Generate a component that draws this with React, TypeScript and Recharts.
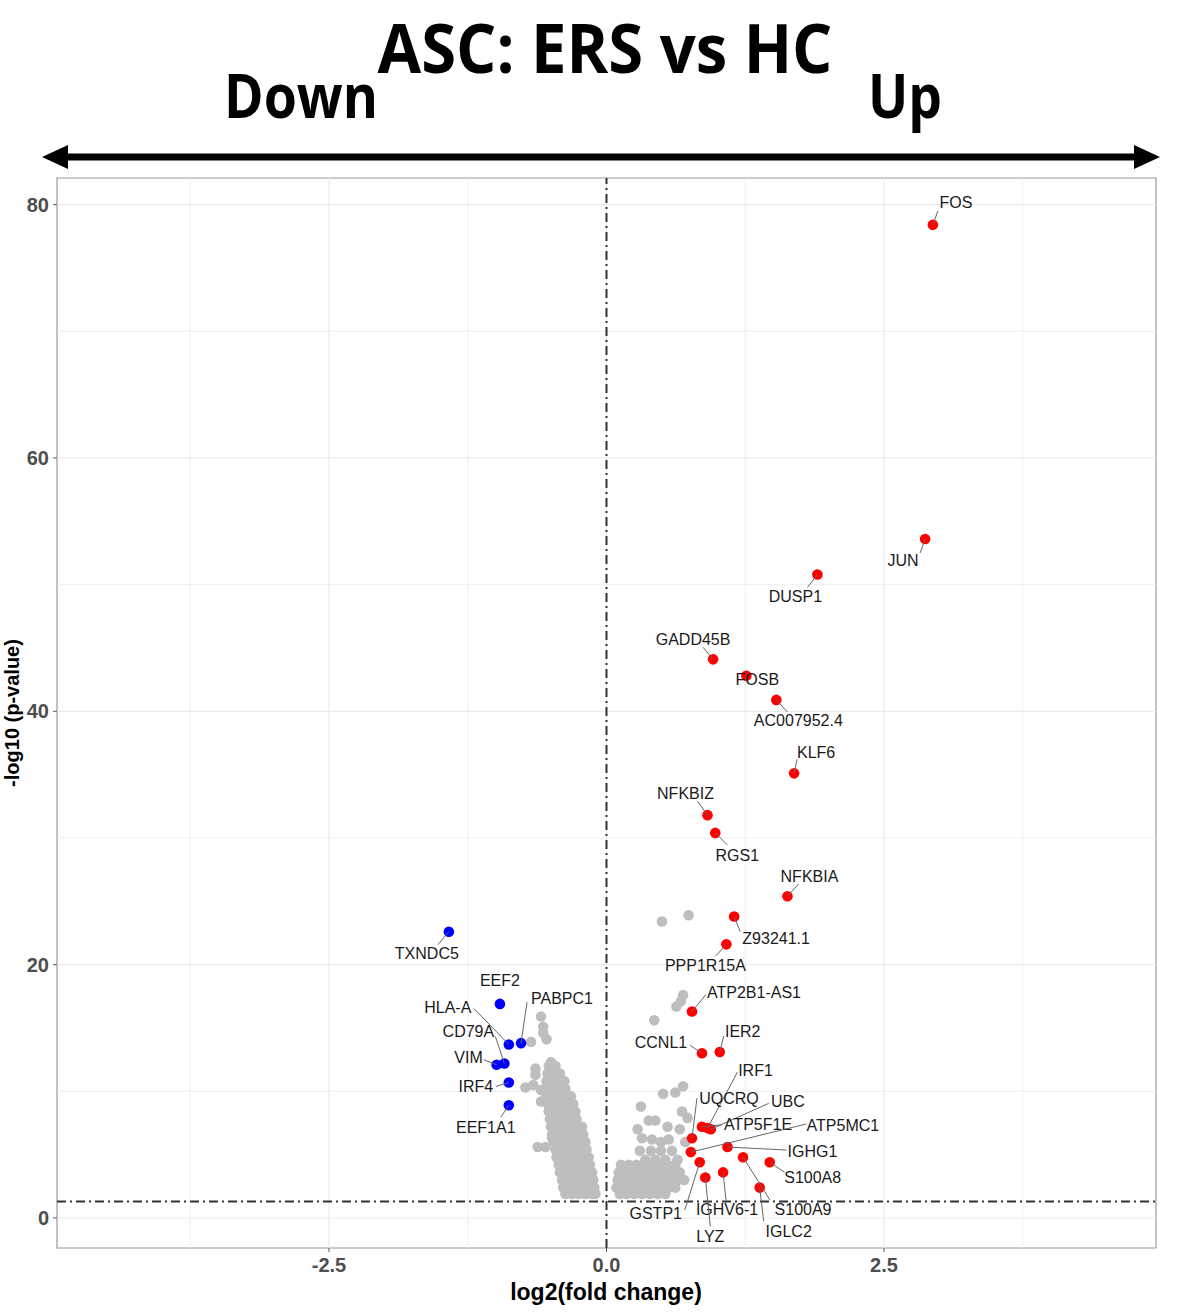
import React from "react";
import {
  ScatterChart,
  Scatter,
  XAxis,
  YAxis,
  ReferenceLine,
  ReferenceArea,
} from "recharts";

// up-regulated genes (red), log2FC / -log10 p
const upGenes = ["FOS", "JUN", "DUSP1", "GADD45B", "FOSB", "AC007952.4", "KLF6", "NFKBIZ", "RGS1", "NFKBIA", "Z93241.1", "PPP1R15A", "ATP2B1-AS1", "CCNL1", "IER2", "IRF1", "UQCRQ", "UBC", "ATP5F1E", "ATP5MC1", "IGHG1", "S100A8", "S100A9", "IGLC2", "IGHV6-1", "LYZ", "GSTP1"];
const upFC = [2.94, 2.87, 1.9, 0.96, 1.26, 1.53, 1.69, 0.91, 0.98, 1.63, 1.15, 1.08, 0.77, 0.86, 1.02, 0.91, 0.77, 0.94, 0.86, 0.76, 1.09, 1.47, 1.23, 1.38, 1.05, 0.89, 0.84];
const upP = [78.4, 53.6, 50.8, 44.1, 42.8, 40.9, 35.1, 31.8, 30.4, 25.4, 23.8, 21.6, 16.3, 13.0, 13.1, 7.1, 6.3, 7.0, 7.2, 5.2, 5.6, 4.4, 4.8, 2.4, 3.6, 3.2, 4.4];

// down-regulated genes (blue)
const downGenes = ["TXNDC5", "EEF2", "HLA-A", "PABPC1", "CD79A", "VIM", "IRF4", "EEF1A1"];
const downFC = [-1.42, -0.96, -0.88, -0.77, -0.92, -0.99, -0.88, -0.88];
const downP = [22.6, 16.9, 13.7, 13.8, 12.2, 12.1, 10.7, 8.9];

// not significant (grey)
const greyLeft: [number, number][] = [
  [-0.59, 15.9], [-0.57, 15.1], [-0.57, 14.6], [-0.54, 14.1], [-0.68, 13.9],
  [-0.5, 12.3], [-0.64, 11.8], [-0.64, 11.3], [-0.73, 10.3], [-0.66, 10.5],
  [-0.59, 10.1], [-0.59, 9.2], [-0.62, 5.6], [-0.55, 5.6], [-0.49, 6.3],
  [-0.52, 12.0], [-0.46, 12.0],
  [-0.53, 11.4], [-0.47, 11.4], [-0.42, 11.4],
  [-0.54, 10.8], [-0.48, 10.8], [-0.42, 10.8], [-0.38, 10.8],
  [-0.55, 10.2], [-0.49, 10.2], [-0.43, 10.2], [-0.37, 10.2],
  [-0.54, 9.6], [-0.48, 9.6], [-0.42, 9.6], [-0.36, 9.6], [-0.32, 9.6],
  [-0.53, 9.0], [-0.47, 9.0], [-0.41, 9.0], [-0.35, 9.0], [-0.3, 9.0],
  [-0.52, 8.4], [-0.46, 8.4], [-0.4, 8.4], [-0.34, 8.4], [-0.28, 8.4],
  [-0.51, 7.8], [-0.45, 7.8], [-0.39, 7.8], [-0.33, 7.8], [-0.27, 7.8],
  [-0.5, 7.2], [-0.44, 7.2], [-0.38, 7.2], [-0.32, 7.2], [-0.26, 7.2], [-0.22, 7.2],
  [-0.49, 6.6], [-0.43, 6.6], [-0.37, 6.6], [-0.31, 6.6], [-0.25, 6.6], [-0.21, 6.6],
  [-0.47, 6.0], [-0.41, 6.0], [-0.35, 6.0], [-0.29, 6.0], [-0.23, 6.0], [-0.19, 6.0],
  [-0.46, 5.4], [-0.4, 5.4], [-0.34, 5.4], [-0.28, 5.4], [-0.22, 5.4], [-0.18, 5.4],
  [-0.45, 4.8], [-0.39, 4.8], [-0.33, 4.8], [-0.27, 4.8], [-0.21, 4.8], [-0.16, 4.8],
  [-0.43, 4.2], [-0.37, 4.2], [-0.31, 4.2], [-0.25, 4.2], [-0.19, 4.2], [-0.15, 4.2],
  [-0.42, 3.6], [-0.36, 3.6], [-0.3, 3.6], [-0.24, 3.6], [-0.18, 3.6], [-0.13, 3.6],
  [-0.4, 3.0], [-0.34, 3.0], [-0.28, 3.0], [-0.22, 3.0], [-0.16, 3.0], [-0.12, 3.0],
  [-0.39, 2.4], [-0.33, 2.4], [-0.27, 2.4], [-0.21, 2.4], [-0.15, 2.4], [-0.11, 2.4],
  [-0.37, 1.9], [-0.31, 1.9], [-0.25, 1.9], [-0.19, 1.9], [-0.13, 1.9], [-0.1, 1.9],
];
const greyRight: [number, number][] = [
  [0.5, 23.4], [0.74, 23.9], [0.69, 17.6], [0.67, 17.1], [0.63, 16.7], [0.43, 15.6],
  [0.69, 10.4], [0.62, 9.9], [0.51, 9.8], [0.31, 8.8], [0.68, 8.4], [0.73, 7.9],
  [0.38, 7.7], [0.44, 7.7], [0.55, 7.2], [0.28, 7.0], [0.66, 7.0],
  [0.32, 6.3], [0.41, 6.2], [0.49, 6.0], [0.56, 6.2], [0.71, 6.0],
  [0.3, 5.3], [0.4, 5.3], [0.49, 5.3], [0.59, 5.3],
  [0.35, 4.6], [0.44, 4.6], [0.53, 4.6], [0.64, 4.6],
  [0.13, 4.2], [0.2, 4.2], [0.27, 4.2], [0.34, 4.2], [0.41, 4.2], [0.48, 4.2], [0.55, 4.2], [0.62, 4.2],
  [0.11, 3.6], [0.17, 3.6], [0.24, 3.6], [0.31, 3.6], [0.38, 3.6], [0.45, 3.6], [0.52, 3.6], [0.59, 3.6], [0.66, 3.6],
  [0.1, 3.0], [0.16, 3.0], [0.22, 3.0], [0.29, 3.0], [0.36, 3.0], [0.43, 3.0], [0.5, 3.0], [0.57, 3.0], [0.64, 3.0], [0.7, 3.0],
  [0.09, 2.4], [0.15, 2.4], [0.21, 2.4], [0.28, 2.4], [0.35, 2.4], [0.42, 2.4], [0.49, 2.4], [0.56, 2.4], [0.62, 2.4],
  [0.12, 1.9], [0.18, 1.9], [0.25, 1.9], [0.32, 1.9], [0.39, 1.9], [0.46, 1.9], [0.53, 1.9],
];

const xTicks = [-2.5, 0, 2.5];
const yTicks = [0, 20, 40, 60, 80];
const xMinor = [-3.75, -1.25, 1.25, 3.75];
const yMinor = [10, 30, 50, 70];
const pCutoff = 1.301;

// label placement (pixels): text dx, dy and segment end sx, sy
const nudge: Record<string, number[]> = {
  FOS: [23, -22, 5, -14],
  JUN: [-22, 21, -5, 14],
  DUSP1: [-22, 22, -10, 13],
  GADD45B: [-20, -20, -10, -12],
  FOSB: [11, 4, 0, 0],
  "AC007952.4": [22, 21, 11, 12],
  KLF6: [22, -21, 3, -14],
  NFKBIZ: [-22, -22, -10, -14],
  RGS1: [22, 23, 12, 12],
  NFKBIA: [22, -20, 11, -12],
  "Z93241.1": [42, 22, 6, 15],
  PPP1R15A: [-21, 21, -11, 12],
  "ATP2B1-AS1": [62, -19, 14, -17],
  CCNL1: [-41, -11, -12, -8],
  IER2: [23, -21, 4, -16],
  IRF1: [48, -58, 30, -56],
  UQCRQ: [37, -40, 5, -40],
  UBC: [77, -28, 58, -26],
  ATP5F1E: [56, -2, 20, -2],
  ATP5MC1: [152, -27, 115, -28],
  IGHG1: [85, 4, 59, 3],
  S100A8: [43, 15, 15, 10],
  S100A9: [60, 52, 27, 43],
  IGLC2: [29, 44, 4, 34],
  "IGHV6-1": [4, 37, 3, 28],
  LYZ: [5, 59, 5, 49],
  GSTP1: [-44, 51, -15, 48],
  TXNDC5: [-22, 22, -11, 13],
  EEF2: [0, -23, 0, 0],
  PABPC1: [41, -45, 6, -41],
  "HLA-A": [-61, -37, -35, -36],
  CD79A: [-36, -32, -9, -27],
  VIM: [-28, -7, -13, -5],
  IRF4: [-33, 4, -13, 4],
  EEF1A1: [-23, 22, -8, 12],
};

const upData = upGenes.map((g, i) => ({ gene: g, x: upFC[i], y: upP[i] }));
const downData = downGenes.map((g, i) => ({ gene: g, x: downFC[i], y: downP[i] }));
const greyData = [...greyLeft, ...greyRight].map(([x, y]) => ({ x, y }));
const labelData = [...upData, ...downData];

const dot = (color: string) => (props: any) => (
  <circle cx={props.cx} cy={props.cy} r={5.3} fill={color} />
);

const GeneLabel = (props: any) => {
  const { cx, cy, payload } = props;
  const n = nudge[payload.gene] || [0, -15, 0, 0];
  return (
    <g>
      {(n[2] !== 0 || n[3] !== 0) && (
        <line x1={cx} y1={cy} x2={cx + n[2]} y2={cy + n[3]} stroke="#666" strokeWidth={1} />
      )}
      <text
        x={cx + n[0]}
        y={cy + n[1]}
        textAnchor="middle"
        dominantBaseline="central"
        fontFamily="'Liberation Sans', Arial, sans-serif"
        fontSize={16}
        fill="#1a1a1a"
      >
        {payload.gene}
      </text>
    </g>
  );
};

const XTick = (props: any) => (
  <text x={props.x} y={props.y} dy={18} textAnchor="middle" fontSize={20} fontWeight="bold" fill="#4d4d4d" fontFamily="'Liberation Sans', Arial, sans-serif">
    {Number(props.payload.value).toFixed(1)}
  </text>
);

const YTick = (props: any) => (
  <text x={props.x} y={props.y} dx={-2} textAnchor="end" dominantBaseline="central" fontSize={20} fontWeight="bold" fill="#4d4d4d" fontFamily="'Liberation Sans', Arial, sans-serif">
    {props.payload.value}
  </text>
);

export default function App() {
  return (
    <div style={{ position: "absolute", left: 0, top: 0, width: 1178, height: 1312, background: "#fff" }}>
      <ScatterChart width={1178} height={1312} margin={{ top: 178, right: 22, bottom: 4, left: 7 }}>
        <XAxis
          type="number"
          dataKey="x"
          domain={[-4.95, 4.95]}
          ticks={xTicks}
          allowDataOverflow
          axisLine={false}
          tickLine={{ stroke: "#555" }}
          tickSize={4}
          height={60}
          tick={<XTick />}
        />
        <YAxis
          type="number"
          dataKey="y"
          domain={[-2.37, 82.1]}
          ticks={yTicks}
          allowDataOverflow
          axisLine={false}
          tickLine={{ stroke: "#555" }}
          tickSize={4}
          width={50}
          tick={<YTick />}
        />
        {[...xTicks, ...xMinor].map((v) => (
          <ReferenceLine key={"gx" + v} x={v} stroke="#ebebeb" strokeWidth={xMinor.includes(v) ? 0.8 : 1.2} />
        ))}
        {[...yTicks, ...yMinor].map((v) => (
          <ReferenceLine key={"gy" + v} y={v} stroke="#ebebeb" strokeWidth={yMinor.includes(v) ? 0.8 : 1.2} />
        ))}
        <ReferenceArea x1={-4.95} x2={4.95} y1={-2.37} y2={82.1} fill="none" stroke="#9a9a9a" strokeWidth={1.2} />
        <ReferenceLine x={0} stroke="#333" strokeWidth={2} strokeDasharray="9 4 2 4" />
        <ReferenceLine y={pCutoff} stroke="#333" strokeWidth={2} strokeDasharray="9 4 2 4" />
        <Scatter data={greyData} fill="#bebebe" shape={dot("#bebebe")} isAnimationActive={false} />
        <Scatter data={downData} fill="#0000ff" shape={dot("#0000ff")} isAnimationActive={false} />
        <Scatter data={upData} fill="#ff0000" shape={dot("#ff0000")} isAnimationActive={false} />
        <Scatter data={labelData} shape={<GeneLabel />} isAnimationActive={false} />
      </ScatterChart>
      <svg width={1178} height={1312} style={{ position: "absolute", left: 0, top: 0, pointerEvents: "none" }}>
        <text x={605} y={73} textAnchor="middle" fontFamily="'Open Sans', sans-serif" fontWeight="bold" fontSize={68} textLength={455} lengthAdjust="spacingAndGlyphs" fill="#000">
          ASC: ERS vs HC
        </text>
        <text x={301} y={118} textAnchor="middle" fontFamily="'Open Sans', sans-serif" fontWeight="bold" fontSize={60} textLength={154} lengthAdjust="spacingAndGlyphs" fill="#000">
          Down
        </text>
        <text x={905} y={118} textAnchor="middle" fontFamily="'Open Sans', sans-serif" fontWeight="bold" fontSize={60} textLength={74} lengthAdjust="spacingAndGlyphs" fill="#000">
          Up
        </text>
        <line x1={62} y1={157} x2={1140} y2={157} stroke="#000" strokeWidth={7} />
        <polygon points="42,157 68,145 68,169" fill="#000" />
        <polygon points="1160,157 1134,145 1134,169" fill="#000" />
        <text x={606} y={1300} textAnchor="middle" fontFamily="'Liberation Sans', Arial, sans-serif" fontWeight="bold" fontSize={23} fill="#000">
          log2(fold change)
        </text>
        <text x={0} y={0} transform="translate(19,713) rotate(-90)" textAnchor="middle" fontFamily="'Liberation Sans', Arial, sans-serif" fontWeight="bold" fontSize={20} fill="#000">
          -log10 (p-value)
        </text>
      </svg>
    </div>
  );
}
